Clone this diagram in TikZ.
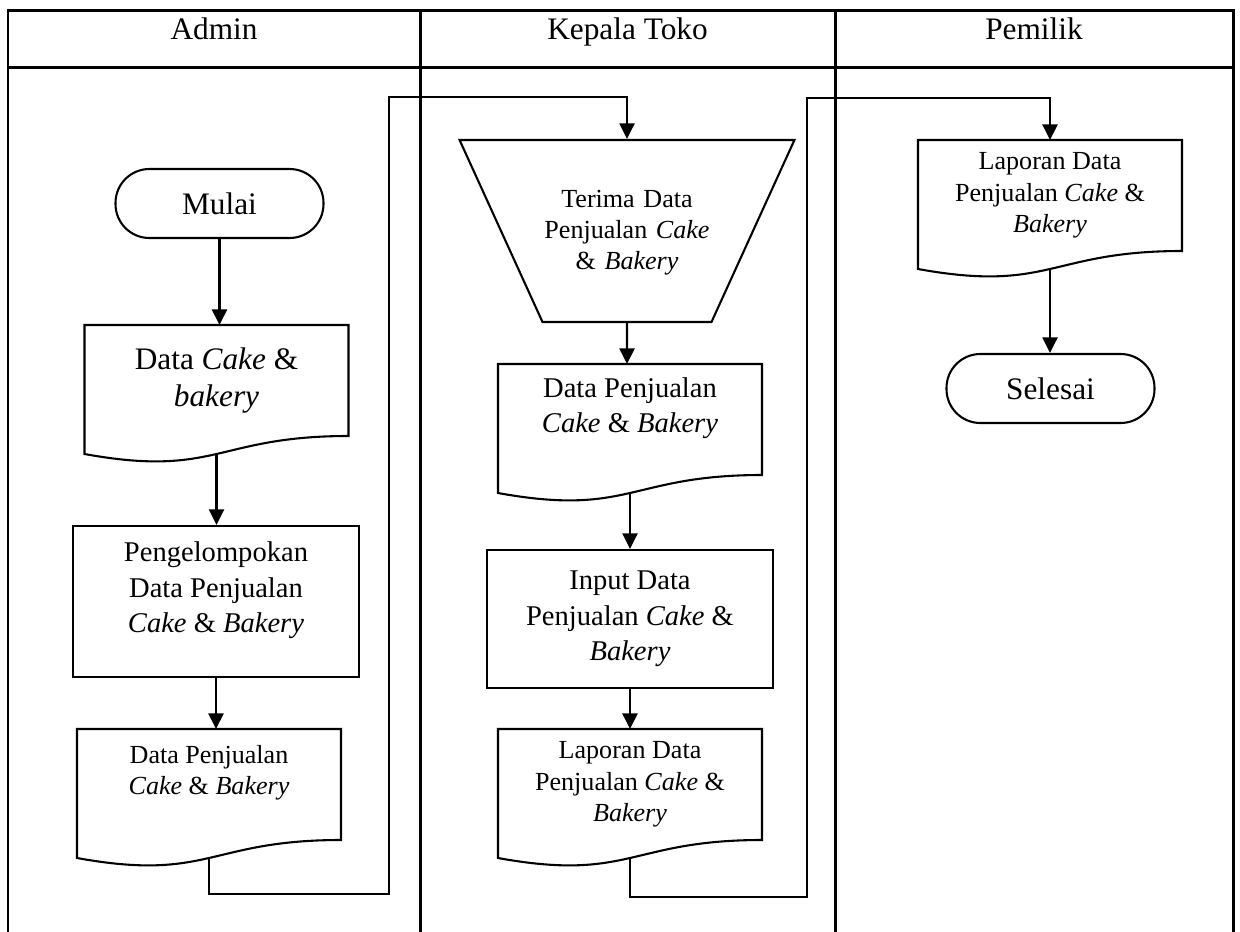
\documentclass[tikz,border=0pt,12pt]{standalone}
\usepackage{fontspec}
\setmainfont{Liberation Serif}
\usepackage{tikz}
\usetikzlibrary{shapes.geometric,arrows.meta,calc}

% satu piksel gambar acuan
\newcommand{\piksel}{0.3834pt}

\begin{document}
\begin{tikzpicture}[
        x=\piksel, y=-\piksel,
        garis/.style={line width=0.8pt},
        panah/.style={garis, -{Triangle[width=5.8pt,length=6pt]}},
        tabel/.style={line width=1.15pt},
        judul/.style={anchor=base, font=\normalsize},
        terminal/.style={rectangle, draw, garis, rounded corners=13pt, minimum width=208*\piksel, minimum height=69*\piksel},
        proses/.style={rectangle, draw, garis, align=center, minimum width=286*\piksel},
        masukan/.style={trapezium, draw, garis, shape border rotate=180, trapezium left angle=65.5, trapezium right angle=65.5, inner sep=0pt, text width=169*\piksel, text height=67*\piksel, text depth=115*\piksel, align=center},
        dokumen/.style={rectangle, align=center, outer sep=0pt, minimum width=264*\piksel, minimum height=111*\piksel,
            append after command={\pgfextra{
                \draw[garis] (\tikzlastnode.north west) -- (\tikzlastnode.north east) -- (\tikzlastnode.south east)
                    .. controls (\tikzlastnode.south) and ($(\tikzlastnode.south)+(0,42)$)
                    .. ($(\tikzlastnode.south west)+(0,18)$) -- cycle;
            }}},
        naik/.style={text depth=11pt}
    ]
        \useasboundingbox (0,0) rectangle (1240,932);

        % tabel swimlane
        \draw[tabel] (8,932) |- (1233,11) -- (1233,932);
        \draw[tabel] (8,68) -- (1233,68);
        \draw[tabel] (420,11) -- (420,932);
        \draw[tabel] (835,11) -- (835,932);
        \node[judul] (jAdmin) at (214,40) {Admin};
        \node[judul] (jKepala) at (627.5,40) {Kepala Toko};
        \node[judul] (jPemilik) at (1034,40) {Pemilik};

        % Admin
        \node[terminal] (mulai) at (219.5,203.5) {Mulai};
        \node[dokumen] (dok1) at (216.5,380.5) {Data \textit{Cake} \&\\\textit{bakery}};
        \node[proses, font=\small, minimum height=151*\piksel, naik] (proses1) at (216,601.5) {Pengelompokan\\Data Penjualan\\\textit{Cake} \& \textit{Bakery}};
        \node[dokumen, font=\footnotesize, naik] (dok2) at (209,784.5) {Data Penjualan\\\textit{Cake} \& \textit{Bakery}};

        % Kepala Toko
        \node[masukan, font=\footnotesize] (terima) at (627,231) {Terima Data\\Penjualan \textit{Cake}\\\& \textit{Bakery}};
        \node[dokumen, font=\small, naik] (dok3) at (630,419.5) {Data Penjualan\\\textit{Cake} \& \textit{Bakery}};
        \node[proses, font=\small, minimum height=138*\piksel] (proses2) at (630,619) {Input Data\\Penjualan \textit{Cake} \&\\\textit{Bakery}};
        \node[dokumen, font=\footnotesize] (dok4) at (630,784.5) {Laporan Data\\Penjualan \textit{Cake} \&\\\textit{Bakery}};

        % Pemilik
        \node[dokumen, font=\footnotesize] (dok5) at (1050,195.5) {Laporan Data\\Penjualan \textit{Cake} \&\\\textit{Bakery}};
        \node[terminal] (selesai) at (1050.5,388.5) {Selesai};

        % alur
        \draw[panah] (mulai) -- (mulai |- dok1.north);
        \draw[panah] ([yshift=-18*\piksel]dok1.south) -- (dok1.south |- proses1.north);
        \draw[panah] (proses1) -- (proses1 |- dok2.north);
        \coordinate (belok1) at (389,894);
        \coordinate (belok2) at (389,97);
        \draw[panah] ([yshift=-18*\piksel]dok2.south) |- (belok1) -- (belok2) -| (terima.north);

        \draw[panah] (terima) -- (terima |- dok3.north);
        \draw[panah] ([yshift=-18*\piksel]dok3.south) -- (dok3.south |- proses2.north);
        \draw[panah] (proses2) -- (proses2 |- dok4.north);
        \coordinate (belok3) at (807,897);
        \coordinate (belok4) at (807,98);
        \draw[panah] ([yshift=-18*\piksel]dok4.south) |- (belok3) -- (belok4) -| (dok5.north);

        \draw[panah] ([yshift=-18*\piksel]dok5.south) -- (dok5.south |- selesai.north);
    \end{tikzpicture}
\end{document}
